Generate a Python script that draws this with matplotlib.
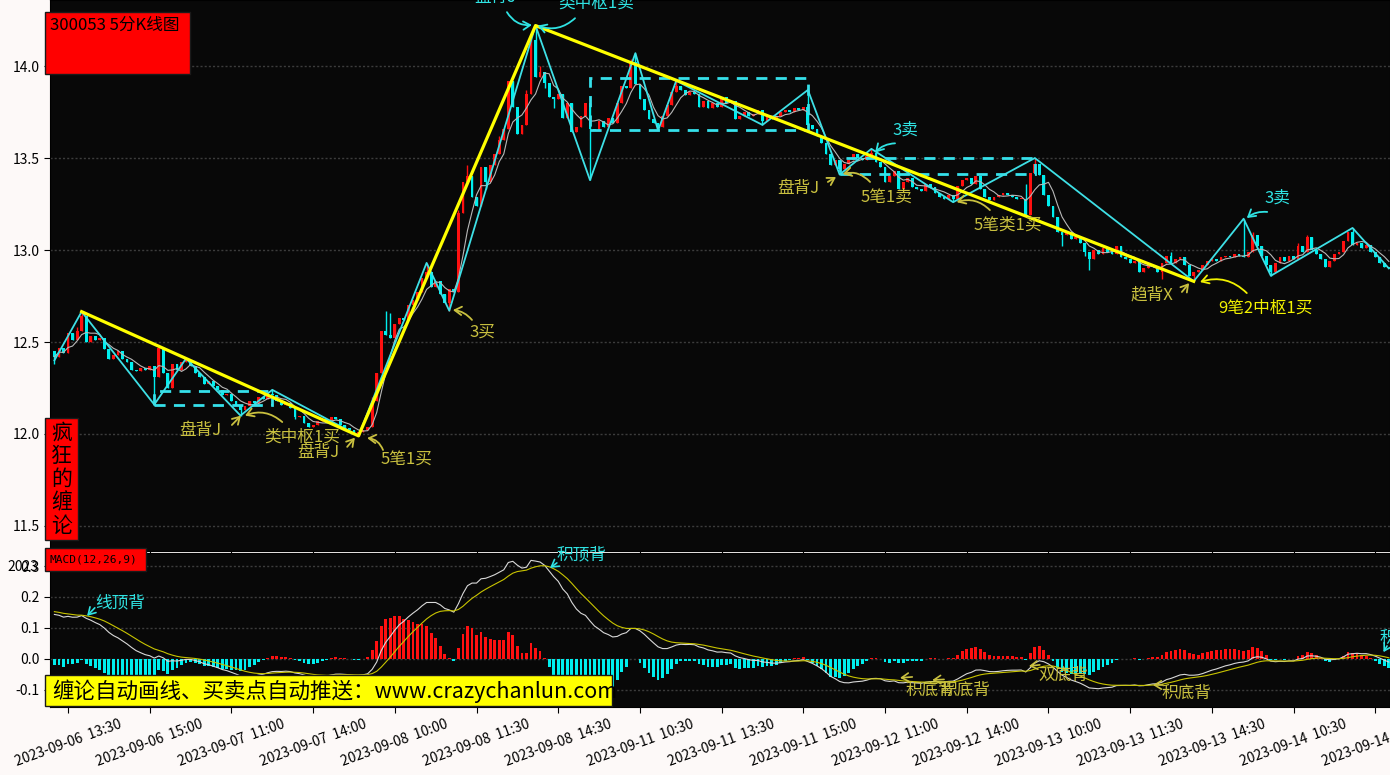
import numpy as np
import pandas as pd
import matplotlib
matplotlib.use('Agg')
import matplotlib.pyplot as plt
from matplotlib.patches import Rectangle

plt.rcParams['font.family'] = ['Noto Sans CJK SC', 'DejaVu Sans']
plt.rcParams['axes.unicode_minus'] = False

# ---- 5 minute bars (open of each bar = previous close) ----
open0 = 12.45
close = [
    12.42, 12.47, 12.44, 12.55, 12.51, 12.56, 12.64, 12.50, 12.53, 12.51,
    12.52, 12.46, 12.41, 12.43, 12.45, 12.41, 12.39, 12.35, 12.34, 12.36,
    12.35, 12.37, 12.31, 12.47, 12.33, 12.25, 12.38, 12.35, 12.39, 12.40,
    12.37, 12.33, 12.31, 12.27, 12.29, 12.26, 12.24, 12.21, 12.22, 12.18,
    12.16, 12.13, 12.15, 12.18, 12.17, 12.20, 12.19, 12.22, 12.21, 12.18,
    12.16, 12.17, 12.14, 12.09, 12.10, 12.06, 12.04, 12.05, 12.07, 12.08,
    12.06, 12.09, 12.08, 12.05, 12.03, 12.02, 12.00, 12.01, 12.02, 12.04,
    12.18, 12.33, 12.56, 12.54, 12.52, 12.60, 12.63, 12.62, 12.70, 12.73,
    12.77, 12.85, 12.88, 12.80, 12.83, 12.76, 12.71, 12.79, 12.77, 13.20,
    13.37, 13.40, 13.29, 13.24, 13.45, 13.37, 13.46, 13.52, 13.60, 13.66,
    13.92, 13.78, 13.63, 13.68, 13.85, 14.14, 13.94, 13.97, 13.91, 13.83,
    13.82, 13.85, 13.72, 13.80, 13.64, 13.67, 13.73, 13.80, 13.66, 13.65,
    13.70, 13.67, 13.72, 13.69, 13.80, 13.89, 13.88, 14.02, 13.90, 13.82,
    13.76, 13.71, 13.69, 13.67, 13.73, 13.79, 13.86, 13.89, 13.87, 13.84,
    13.86, 13.85, 13.78, 13.81, 13.77, 13.80, 13.78, 13.83, 13.80, 13.81,
    13.71, 13.73, 13.75, 13.73, 13.74, 13.76, 13.70, 13.73, 13.71, 13.73,
    13.75, 13.76, 13.75, 13.77, 13.76, 13.78, 13.68, 13.66, 13.62, 13.58,
    13.52, 13.46, 13.49, 13.44, 13.47, 13.49, 13.52, 13.50, 13.49, 13.51,
    13.53, 13.48, 13.45, 13.37, 13.40, 13.43, 13.33, 13.37, 13.39, 13.34,
    13.33, 13.32, 13.36, 13.34, 13.31, 13.29, 13.28, 13.30, 13.28, 13.35,
    13.38, 13.39, 13.36, 13.40, 13.33, 13.29, 13.27, 13.29, 13.30, 13.31,
    13.30, 13.29, 13.28, 13.28, 13.19, 13.42, 13.47, 13.41, 13.30, 13.24,
    13.18, 13.10, 13.08, 13.10, 13.06, 13.07, 13.04, 12.99, 12.95, 13.00,
    12.98, 13.01, 12.99, 12.98, 13.02, 12.96, 12.95, 12.93, 12.94, 12.88,
    12.90, 12.92, 12.91, 12.88, 12.93, 12.97, 12.93, 12.95, 12.96, 12.92,
    12.86, 12.88, 12.89, 12.92, 12.94, 12.95, 12.94, 12.96, 12.97, 12.96,
    12.98, 12.97, 12.96, 12.99, 13.08, 13.02, 12.97, 12.92, 12.88, 12.93,
    12.96, 12.94, 12.97, 12.95, 13.02, 12.99, 13.07, 13.00, 12.98, 12.95,
    12.91, 12.94, 12.98, 12.99, 13.05, 13.10, 13.03, 13.04, 13.01, 13.03,
    12.99, 12.96, 12.93, 12.91, 12.90]

# wick extremes where they stick out of the body
highs = {5: 12.58, 6: 12.665, 7: 12.64, 23: 12.48, 29: 12.41, 48: 12.24, 70: 12.20,
         73: 12.67, 74: 12.66, 82: 12.93, 89: 13.22, 91: 13.46, 98: 13.62, 104: 13.87,
         105: 14.16, 106: 14.22, 107: 14.00, 127: 14.04, 128: 14.07, 137: 13.92,
         166: 13.87, 180: 13.55, 214: 13.36, 216: 13.50, 246: 12.99, 262: 13.17,
         264: 13.10, 274: 13.04, 276: 13.08, 286: 13.12}
lows = {0: 12.38, 22: 12.16, 41: 12.10, 53: 12.08, 67: 11.99, 87: 12.67, 95: 13.33,
        108: 13.88, 110: 13.77, 118: 13.38, 133: 13.65, 156: 13.68, 173: 13.41,
        198: 13.26, 222: 13.02, 227: 12.97, 228: 12.89, 244: 12.84, 251: 12.83,
        268: 12.86}

# 笔 (cyan) and 线段 (yellow) vertices
bi_idx = [0, 6, 22, 29, 41, 48, 67, 82, 87, 106, 118, 128, 133, 137, 156, 166,
          173, 180, 198, 216, 251, 262, 268, 286, 294]
bi_px = [12.40, 12.665, 12.16, 12.41, 12.10, 12.24, 11.99, 12.93, 12.67, 14.22,
         13.38, 14.07, 13.65, 13.92, 13.68, 13.87, 13.41, 13.55, 13.26, 13.50,
         12.83, 13.17, 12.86, 13.12, 12.90]
seg_idx = [6, 67, 106, 251]
seg_px = [12.665, 11.99, 14.22, 12.83]

# 中枢 boxes: start, end, low, high
zs_start = [22, 118, 173]
zs_end = [48, 166, 216]
zs_low = [12.155, 13.652, 13.413]
zs_high = [12.235, 13.935, 13.50]

# MACD state carried in from before the first bar
ema12_0, ema26_0, dea_0 = 12.36, 12.21, 0.155

tick_labels = ['2023-09-06  13:30', '2023-09-06  15:00', '2023-09-07  11:00',
               '2023-09-07  14:00', '2023-09-08  10:00', '2023-09-08  11:30',
               '2023-09-08  14:30', '2023-09-11  10:30', '2023-09-11  13:30',
               '2023-09-11  15:00', '2023-09-12  11:00', '2023-09-12  14:00',
               '2023-09-13  10:00', '2023-09-13  11:30', '2023-09-13  14:30',
               '2023-09-14  10:30', '2023-09-14  13:30']

CY = '#2fe3e3'
KH = '#c9c03f'
YE = '#f2f200'
main_notes = [
    ('盘背J', CY, (97.1, 14.375), (99.7, 14.293), (105.2, 14.223), 0.3),
    ('类中枢1卖', CY, (119.3, 14.342), (114.7, 14.26), (106.5, 14.22), -0.3),
    ('3买', KH, (94.4, 12.554), (92.0, 12.62), (87.8, 12.674), 0.2),
    ('盘背J', KH, (32.1, 12.02), (39.1, 12.049), (41.1, 12.10), 0.0),
    ('类中枢1买', KH, (54.6, 11.984), (50.2, 12.065), (42.0, 12.10), 0.3),
    ('盘背J', KH, (58.1, 11.90), (64.5, 11.93), (66.2, 11.98), 0.0),
    ('5笔1买', KH, (77.5, 11.86), (72.4, 11.913), (68.9, 11.978), 0.3),
    ('盘背J', KH, (163.8, 13.337), (170.4, 13.37), (172.2, 13.397), 0.0),
    ('5笔1卖', KH, (183.4, 13.288), (179.7, 13.37), (173.7, 13.413), 0.3),
    ('3卖', CY, (187.4, 13.652), (185.2, 13.58), (180.8, 13.53), 0.2),
    ('5笔类1买', KH, (210.1, 13.136), (206.1, 13.217), (198.8, 13.26), 0.3),
    ('3卖', CY, (269.4, 13.283), (267.2, 13.207), (262.7, 13.174), 0.2),
    ('趋背X', KH, (241.8, 12.755), (248.4, 12.772), (250.0, 12.82), 0.0),
    ('9笔2中枢1买', YE, (266.7, 12.685), (262.7, 12.766), (252.4, 12.826), 0.3),
]
macd_notes = [
    ('线顶背', CY, (14.5, 0.181), (8.9, 0.165), (7.2, 0.139)),
    ('积顶背', CY, (116.2, 0.335), (110.7, 0.31), (109.2, 0.294)),
    ('积底背', KH, (193.1, -0.10), (189.0, -0.058), (186.3, -0.061)),
    ('积底背', KH, (200.6, -0.10), (196.0, -0.066), (193.4, -0.068)),
    ('双底背', KH, (222.2, -0.052), (217.1, -0.019), (214.7, -0.023)),
    ('积底背', KH, (249.5, -0.11), (244.2, -0.084), (242.0, -0.084)),
    ('积顶背', CY, (297.5, 0.068), (293.6, 0.042), (292.8, 0.022)),
]

# ---- derived series ----
n = len(close)
x = np.arange(n)
c = np.array(close)
o = np.array([open0] + close[:-1])
h = np.array([max(o[i], c[i], highs.get(i, 0)) for i in range(n)])
l = np.array([min(o[i], c[i], lows.get(i, 99)) for i in range(n)])
ma5 = pd.Series(c).rolling(5, min_periods=1).mean()

e12, e26, dea = ema12_0, ema26_0, dea_0
dif_l, dea_l = [], []
for p in c:
    e12 += 2 / 13 * (p - e12)
    e26 += 2 / 27 * (p - e26)
    d = e12 - e26
    dea += 0.2 * (d - dea)
    dif_l.append(d)
    dea_l.append(dea)
dif_a = np.array(dif_l)
dea_a = np.array(dea_l)
hist = 2 * (dif_a - dea_a)

RED = '#ff1010'
CAN = '#00eeee'
BG = '#080808'

fig = plt.figure(figsize=(13.9, 7.75), dpi=100, facecolor='#fdf9f8')
ax = fig.add_axes([50 / 1390, 224 / 775, 1340 / 1390, 551 / 775], facecolor=BG)
axm = fig.add_axes([50 / 1390, 68 / 775, 1340 / 1390, 154 / 775], facecolor=BG, sharex=ax)

# candles
up = c >= o
cols = np.where(up, RED, CAN)
ax.vlines(x, l, h, colors=cols, lw=1, zorder=2)
ax.bar(x, np.maximum(np.abs(c - o), 0.004), bottom=np.minimum(o, c), width=0.62,
       color=cols, zorder=2)
ax.plot(x, ma5, color='#b8b8b8', lw=0.8, zorder=3)

for s, e, lo_, hi_ in zip(zs_start, zs_end, zs_low, zs_high):
    ax.add_patch(Rectangle((s, lo_), e - s, hi_ - lo_, fill=False, ec='#35e0ea',
                           lw=2, ls=(0, (4, 3)), zorder=4))
ax.plot(bi_idx, bi_px, color='#3ee0e6', lw=1.3, zorder=5)
ax.plot(seg_idx, seg_px, color='#ffff00', lw=2.3, zorder=6)

for txt, col, tp, sp, ep, rad in main_notes:
    ax.text(tp[0], tp[1], txt, color=col, fontsize=12, ha='center', va='center', zorder=7)
    ax.annotate('', xy=ep, xytext=sp, zorder=7,
                arrowprops=dict(arrowstyle='->,head_length=0.5,head_width=0.3', color=col,
                                lw=1.3, connectionstyle='arc3,rad=%s' % rad,
                                shrinkA=0, shrinkB=0))

ax.set_ylim(11.364, 14.359)
ax.set_yticks([11.5, 12.0, 12.5, 13.0, 13.5, 14.0])
ax.set_yticklabels(['%.1f' % v for v in [11.5, 12.0, 12.5, 13.0, 13.5, 14.0]])
ax.set_xlim(-0.97, 294.25)
ax.grid(axis='y', color='#3c3c3c', ls=(0, (1.5, 1.5)), lw=1)
ax.tick_params(axis='x', labelbottom=False, length=4, color='#222222')

# MACD
axm.bar(x, hist, width=0.62, color=np.where(hist >= 0, RED, CAN), zorder=2)
axm.plot(x, dif_a, color='#d8d8d8', lw=0.8, zorder=3)
axm.plot(x, dea_a, color='#c8c400', lw=0.8, zorder=3)
for txt, col, tp, sp, ep in macd_notes:
    axm.text(tp[0], tp[1], txt, color=col, fontsize=12, ha='center', va='center', zorder=7)
    axm.annotate('', xy=ep, xytext=sp, zorder=7,
                 arrowprops=dict(arrowstyle='->,head_length=0.5,head_width=0.3', color=col,
                                 lw=1.2, shrinkA=0, shrinkB=0))
axm.set_ylim(-0.155, 0.342)
axm.set_yticks([-0.1, 0.0, 0.1, 0.2, 0.3])
axm.set_yticklabels(['-0.1', '0.0', '0.1', '0.2', '0.3'])
axm.grid(axis='y', color='#3c3c3c', ls=(0, (1.5, 1.5)), lw=1)
axm.set_xticks(range(3, 3 + 18 * len(tick_labels), 18))
axm.set_xticklabels(tick_labels, rotation=20, ha='center')

for a in (ax, axm):
    for sp_ in a.spines.values():
        sp_.set_color('black')
    a.tick_params(axis='both', labelsize=10, length=4, colors='black')
    a.set_axisbelow(True)

# text boxes on the figure
def box(x0, y0, x1, y1, fc):
    fig.add_artist(Rectangle((x0 / 1390, 1 - y1 / 775), (x1 - x0) / 1390, (y1 - y0) / 775,
                             transform=fig.transFigure, fc=fc, ec='#1a1a1a', lw=1, zorder=5))

box(45, 12, 190, 74, '#ff0000')
fig.text(50 / 1390, 1 - 25 / 775, '300053 5分K线图', fontsize=12, color='black',
         va='center', ha='left', zorder=6)
box(45, 418, 78, 540, '#ff0000')
fig.text(61.5 / 1390, 1 - 479 / 775, '\n'.join('疯狂的缠论'), fontsize=15, color='black',
         va='center', ha='center', linespacing=1.08, zorder=6)
box(45, 548, 146, 571, '#ff0000')
fig.text(50 / 1390, 1 - 559.5 / 775, 'MACD(12,26,9)', fontsize=8, color='black',
         family='DejaVu Sans Mono', va='center', ha='left', zorder=6)
box(45, 675, 612, 706, '#ffff00')
fig.text(52 / 1390, 1 - 691 / 775, '缠论自动画线、买卖点自动推送：www.crazychanlun.com',
         fontsize=15.5, color='black', va='center', ha='left', zorder=6)
fig.text(38 / 1390, 1 - 567 / 775, '2023', fontsize=10, color='black',
         va='center', ha='right', zorder=6)

fig.savefig('out.png', dpi=100, facecolor=fig.get_facecolor())
